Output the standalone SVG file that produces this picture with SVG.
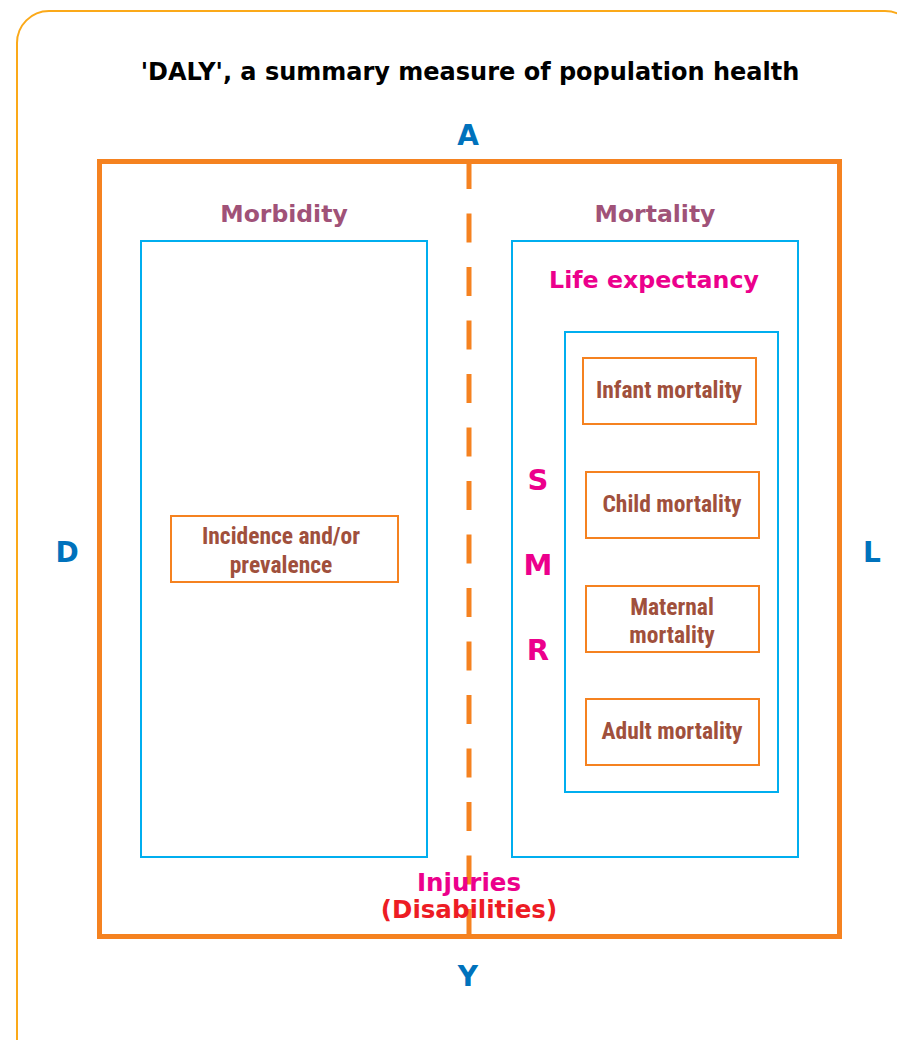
<svg xmlns="http://www.w3.org/2000/svg" width="897" height="1040" viewBox="0 0 897 1040">
<style>
.v{font-family:"DejaVu Sans",Verdana,sans-serif;font-weight:bold;text-anchor:middle}
.n{font-family:"Liberation Sans Narrow","Roboto Condensed","Liberation Sans",sans-serif;font-stretch:condensed;font-weight:bold;font-size:23.5px;fill:#A0503C;text-anchor:middle}
.blue{fill:none;stroke:#00AEEF;stroke-width:2}
.ob{fill:none;stroke:#F58220;stroke-width:2}
.axis{fill:#0072BC;font-size:28px}
.hd{fill:#A05278;font-size:23.5px}
.pk{fill:#EC008C}
</style>
<rect x="17" y="11" width="900" height="1060" rx="32" fill="#fff" stroke="#FBA919" stroke-width="2"/>
<text class="v" x="470" y="80" font-size="24" fill="#000">'DALY', a summary measure of population health</text>
<g id="frame">
<rect x="99.5" y="161.5" width="740" height="775" fill="none" stroke="#F58220" stroke-width="5"/>
</g>
<g id="connectors">
<line x1="469" y1="160" x2="469" y2="937" stroke="#F58220" stroke-width="5" stroke-dasharray="29 24.5"/>
</g>
<g id="axis-labels">
<text class="v axis" x="468" y="145">A</text>
<text class="v axis" x="67" y="562">D</text>
<text class="v axis" x="872" y="562">L</text>
<text class="v axis" x="468" y="986">Y</text>
</g>
<g id="morbidity">
<text class="v hd" x="284" y="222">Morbidity</text>
<rect class="blue" x="141" y="241" width="286" height="616"/>
</g>
<g id="incidence">
<rect class="ob" x="171" y="516" width="227" height="66"/>
<text class="n" x="281" y="544" font-size="24">Incidence and/or</text>
<text class="n" x="281" y="573" font-size="24">prevalence</text>
</g>
<g id="mortality">
<text class="v hd" x="655" y="222">Mortality</text>
<rect class="blue" x="512" y="241" width="286" height="616"/>
<text class="v pk" x="654" y="288" font-size="23.7">Life expectancy</text>
</g>
<g id="smr">
<rect class="blue" x="565" y="332" width="213" height="460"/>
<text class="v pk" x="538" y="490" font-size="29">S</text>
<text class="v pk" x="538" y="575" font-size="29">M</text>
<text class="v pk" x="538" y="660" font-size="29">R</text>
</g>
<g id="infant">
<rect class="ob" x="583" y="358" width="173" height="66"/>
<text class="n" x="669" y="398">Infant mortality</text>
</g>
<g id="child">
<rect class="ob" x="586" y="472" width="173" height="66"/>
<text class="n" x="672" y="512">Child mortality</text>
</g>
<g id="maternal">
<rect class="ob" x="586" y="586" width="173" height="66"/>
<text class="n" x="672" y="615">Maternal</text>
<text class="n" x="672" y="643">mortality</text>
</g>
<g id="adult">
<rect class="ob" x="586" y="699" width="173" height="66"/>
<text class="n" x="672" y="739">Adult mortality</text>
</g>
<g id="injuries">
<text class="v pk" x="469" y="891" font-size="24.5">Injuries</text>
<text class="v" x="469" y="918" font-size="24.5" fill="#ED1C24">(Disabilities)</text>
</g>
</svg>
